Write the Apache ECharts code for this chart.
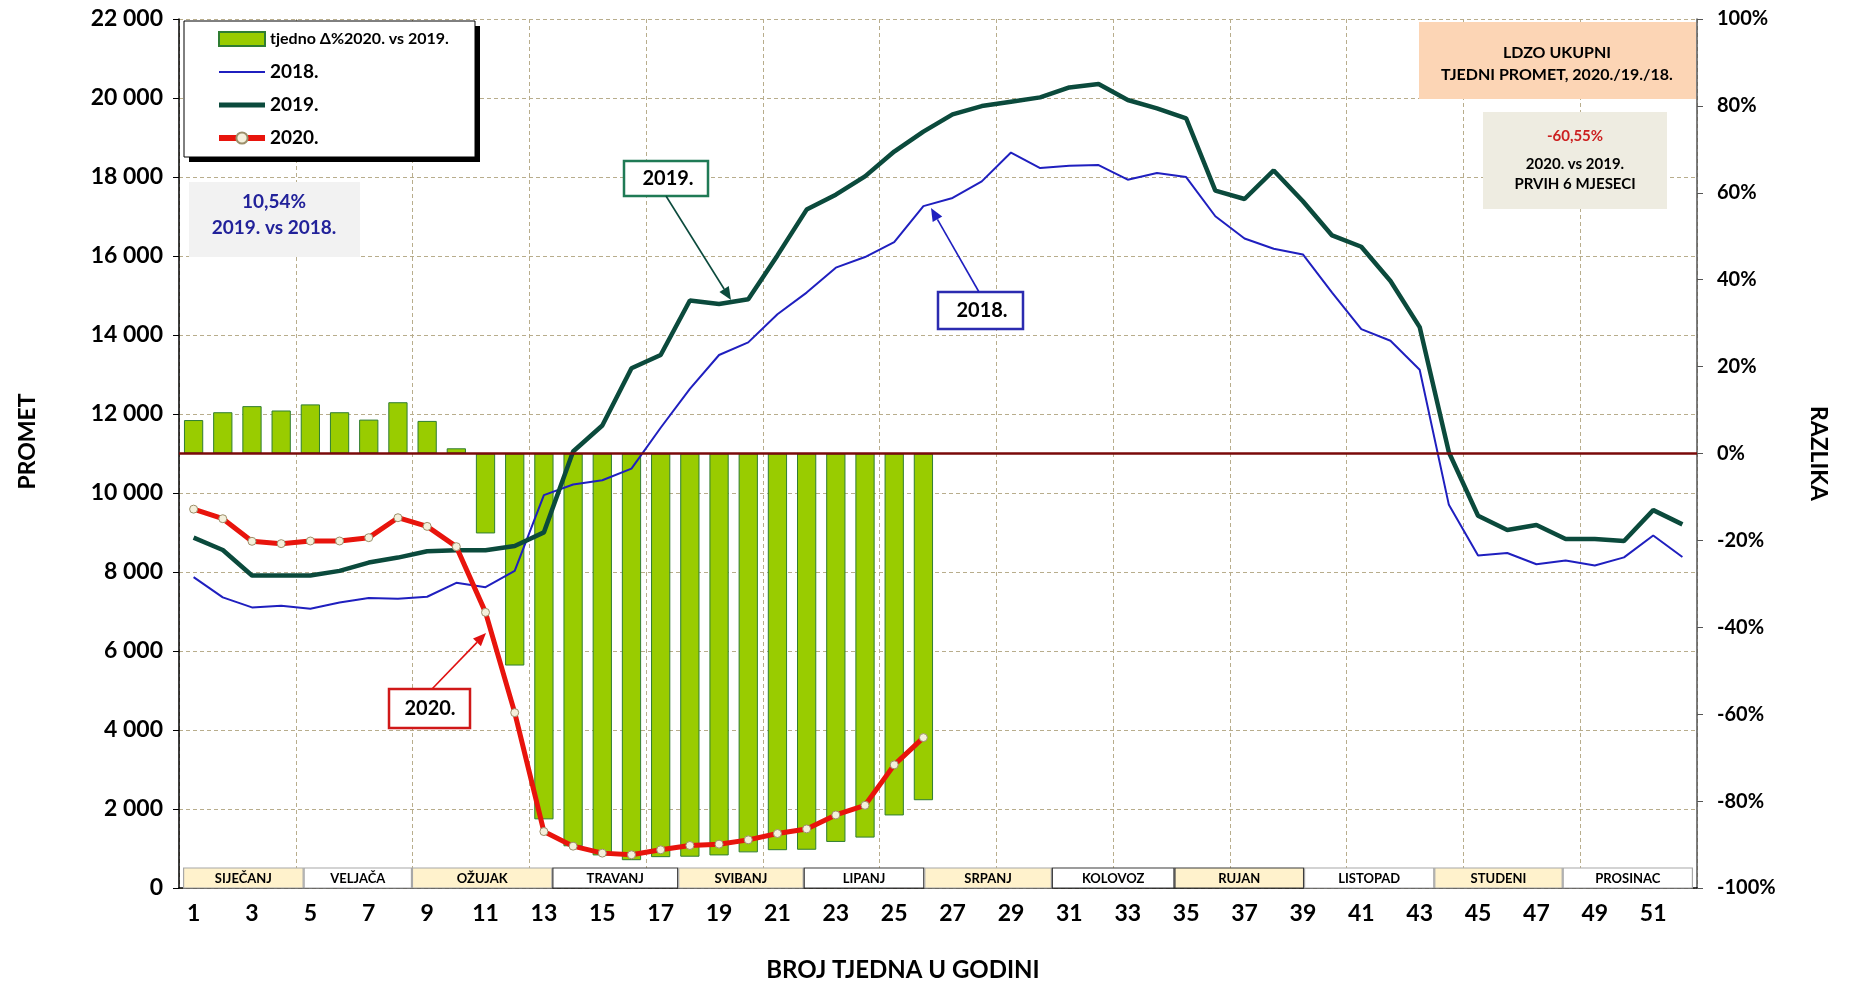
<!DOCTYPE html>
<html>
<head>
<meta charset="utf-8">
<title>LDZO ukupni tjedni promet</title>
<script src="https://cdn.jsdelivr.net/npm/echarts@6/dist/echarts.min.js"></script>
<style>
  html, body { margin: 0; padding: 0; background: #ffffff; }
  #chart { width: 1849px; height: 987px; }
</style>
</head>
<body>
<div id="chart"></div>
<script>
// ---- data ---------------------------------------------------------------
// week numbers 1..52
const weeks = ['1','2','3','4','5','6','7','8','9','10','11','12','13','14','15','16','17','18','19','20','21','22','23','24','25','26',
               '27','28','29','30','31','32','33','34','35','36','37','38','39','40','41','42','43','44','45','46','47','48','49','50','51','52'];

// weekly traffic 2018
const promet2018 = [7869, 7357, 7104, 7146, 7070, 7230, 7339, 7322, 7373, 7725, 7616, 8028, 9945,
                    10214, 10323, 10618, 11652, 12636, 13493, 13813, 14527, 15074, 15705, 15974, 16352, 17262,
                    17470, 17890, 18619, 18226, 18285, 18302, 17932, 18100, 17999, 17007, 16444, 16183, 16040,
                    15074, 14149, 13855, 13120, 9700, 8420, 8480, 8197, 8290, 8164, 8370, 8925, 8380];

// weekly traffic 2019
const promet2019 = [8869, 8558, 7911, 7911, 7911, 8028, 8239, 8365, 8524, 8550, 8550, 8658, 9003,
                    11050, 11710, 13157, 13493, 14872, 14787, 14905, 16015, 17175, 17553, 18015, 18645, 19150,
                    19586, 19795, 19907, 20016, 20268, 20352, 19949, 19739, 19487, 17653, 17443, 18166, 17385,
                    16520, 16234, 15367, 14200, 11030, 9424, 9061, 9189, 8836, 8836, 8785, 9567, 9206];

// weekly traffic 2020 (first half of the year)
const promet2020 = [9591, 9349, 8777, 8718, 8785, 8785, 8869, 9374, 9155, 8642, 6978, 4439, 1429,
                    1059, 883, 841, 967, 1076, 1110, 1219, 1379, 1496, 1849, 2093, 3118, 3808];

// weekly change 2020 vs 2019, in %
const razlikaPct = [7.7, 9.5, 10.9, 9.9, 11.3, 9.5, 7.8, 11.8, 7.5, 1.2, -18.4, -48.8, -84.2,
                    -90.4, -92.5, -93.6, -92.9, -92.8, -92.5, -91.8, -91.3, -91.2, -89.4, -88.4, -83.3, -79.8];

// month strip along the week axis: names and where each month starts (in weeks)
const months = ['SIJEČANJ', 'VELJAČA', 'OŽUJAK', 'TRAVANJ', 'SVIBANJ', 'LIPANJ',
                'SRPANJ', 'KOLOVOZ', 'RUJAN', 'LISTOPAD', 'STUDENI', 'PROSINAC'];
const monthEdges = [0.64, 4.77, 8.48, 13.29, 17.6, 21.9, 26.03, 30.4, 34.6, 39.04, 43.5, 47.9, 52.36];

// axis ranges
const prometMin = 0, prometMax = 22000, prometStep = 2000;
const pctMin = -100, pctMax = 100, pctStep = 20;

// ---- chart --------------------------------------------------------------
const FONT = 'Lato, "Open Sans", "DejaVu Sans", sans-serif';
const NAME_BAR = 'tjedno Δ%2020. vs 2019.';

const spaced = v => String(v).replace(/\B(?=(\d{3})+(?!\d))/g, ' ');

function arrow(x1, y1, x2, y2, color, w) {
  const a = Math.atan2(y2 - y1, x2 - x1), L = 13, W = 5.5;
  const bx = x2 - L * Math.cos(a), by = y2 - L * Math.sin(a);
  const px = -Math.sin(a) * W, py = Math.cos(a) * W;
  return [
    { type: 'line', z: 12, shape: { x1: x1, y1: y1, x2: bx, y2: by }, style: { stroke: color, lineWidth: w } },
    { type: 'polygon', z: 12, shape: { points: [[x2, y2], [bx + px, by + py], [bx - px, by - py]] }, style: { fill: color } }
  ];
}

function box(x, y, w, h, fill, stroke, lw) {
  return { type: 'rect', z: 10, shape: { x: x, y: y, width: w, height: h },
           style: { fill: fill, stroke: stroke || null, lineWidth: lw || 0 } };
}

function label(x, y, text, size, color) {
  return { type: 'text', z: 11, x: x, y: y,
           style: { text: text, fill: color || '#000', align: 'center', verticalAlign: 'middle',
                    font: 'bold ' + size + 'px ' + FONT } };
}

const gridColor = '#b8ad8c';

const option = {
  animation: false,
  backgroundColor: '#ffffff',
  textStyle: { fontFamily: FONT },
  grid: { left: 179, right: 152, top: 19, bottom: 96 },
  legend: {
    left: 216, top: 29, orient: 'vertical', z: 20,
    itemWidth: 46, itemHeight: 14, itemGap: 13, padding: 0,
    textStyle: { fontSize: 19, fontWeight: 'bold', color: '#000', lineHeight: 20, fontFamily: FONT },
    data: [
      { name: NAME_BAR, icon: 'rect', textStyle: { fontSize: 16, lineHeight: 20 } },
      { name: '2018.', itemStyle: { opacity: 0 }, lineStyle: { width: 2 } },
      { name: '2019.', itemStyle: { opacity: 0 }, lineStyle: { width: 5 } },
      { name: '2020.', lineStyle: { width: 6 } }
    ]
  },
  xAxis: [
    {
      type: 'category', data: weeks, boundaryGap: true,
      axisLine: { show: true, lineStyle: { color: '#000', width: 1.5 } },
      axisTick: { show: false },
      axisLabel: { interval: 1, margin: 14, fontSize: 23, fontWeight: 'bold', color: '#000', fontFamily: FONT },
      splitLine: { show: true, interval: 3, lineStyle: { color: gridColor, type: [4, 3], width: 1 } },
      name: 'BROJ TJEDNA U GODINI', nameLocation: 'middle', nameGap: 70,
      nameTextStyle: { fontSize: 24, fontWeight: 'bold', color: '#000', fontFamily: FONT, padding: [0, 70, 0, 0] }
    },
    { type: 'value', min: 0.5, max: 52.5, show: false }
  ],
  yAxis: [
    {
      type: 'value', min: prometMin, max: prometMax, interval: prometStep,
      axisLine: { show: true, lineStyle: { color: '#000', width: 1.5 } },
      axisTick: { show: true, length: 6, lineStyle: { color: '#000' } },
      axisLabel: { formatter: spaced, margin: 16, fontSize: 23, fontWeight: 'bold', color: '#000', fontFamily: FONT },
      splitLine: { show: true, lineStyle: { color: gridColor, type: [4, 3], width: 1 } },
      name: 'PROMET', nameLocation: 'middle', nameGap: 140,
      nameTextStyle: { fontSize: 23, fontWeight: 'bold', color: '#000', fontFamily: FONT, padding: [0, 0, 0, 24] }
    },
    {
      type: 'value', position: 'right', min: pctMin, max: pctMax, interval: pctStep,
      axisLine: { show: true, lineStyle: { color: '#555', width: 1.5 } },
      axisTick: { show: true, length: 6, lineStyle: { color: '#555' } },
      axisLabel: { formatter: v => v + '%', margin: 20, fontSize: 20, fontWeight: 'bold', color: '#000', fontFamily: FONT },
      splitLine: { show: false },
      name: 'RAZLIKA', nameLocation: 'middle', nameGap: 110, nameRotate: -90,
      nameTextStyle: { fontSize: 23, fontWeight: 'bold', color: '#000', fontFamily: FONT }
    }
  ],
  series: [
    {
      name: NAME_BAR, type: 'bar', xAxisIndex: 0, yAxisIndex: 1, data: razlikaPct,
      barWidth: '66%', z: 2,
      itemStyle: { color: '#99cc00', borderColor: '#2f7d32', borderWidth: 1 },
      markLine: {
        silent: true, symbol: 'none', label: { show: false },
        lineStyle: { color: '#7a0a0a', width: 2.5, type: 'solid' },
        data: [{ yAxis: 0 }]
      }
    },
    {
      name: '2018.', type: 'line', xAxisIndex: 0, yAxisIndex: 0, data: promet2018,
      symbol: 'none', z: 3,
      lineStyle: { color: '#1f1fbf', width: 2 }, itemStyle: { color: '#1f1fbf' }
    },
    {
      name: '2019.', type: 'line', xAxisIndex: 0, yAxisIndex: 0, data: promet2019,
      symbol: 'none', z: 4,
      lineStyle: { color: '#0b4a3c', width: 4.5 }, itemStyle: { color: '#0b4a3c' }
    },
    {
      name: '2020.', type: 'line', xAxisIndex: 0, yAxisIndex: 0, data: promet2020,
      symbol: 'circle', symbolSize: 8, showSymbol: true, z: 5,
      lineStyle: { color: '#e8140c', width: 5 },
      itemStyle: { color: '#f4f0dc', borderColor: '#9c8f6a', borderWidth: 1 }
    },
    {
      name: 'mjeseci', type: 'custom', xAxisIndex: 1, yAxisIndex: 0, silent: true, z: 1,
      data: months.map((m, i) => [monthEdges[i], monthEdges[i + 1]]),
      encode: { x: [0, 1] },
      renderItem: function (params, api) {
        const i = params.dataIndex;
        const a = api.coord([api.value(0), 0]);
        const b = api.coord([api.value(1), 0]);
        const h = 20;
        const dark = (i === 3 || i === 5 || i === 7 || i === 8);
        return {
          type: 'group',
          children: [
            { type: 'rect', shape: { x: a[0] + 0.5, y: a[1] - h, width: b[0] - a[0] - 1, height: h },
              style: { fill: i % 2 === 0 ? '#fff2cc' : '#ffffff', stroke: dark ? '#3a3a3a' : '#a8a8a8', lineWidth: 1.2 } },
            { type: 'text', style: { text: months[i], x: (a[0] + b[0]) / 2, y: a[1] - h / 2 + 1,
                align: 'center', verticalAlign: 'middle', font: 'bold 13px ' + FONT, fill: '#000' } }
          ]
        };
      }
    }
  ],
  graphic: [
    // legend frame with its hard shadow
    { type: 'rect', z: 9, shape: { x: 189, y: 26, width: 291, height: 136 }, style: { fill: '#000' } },
    box(184, 21, 291, 136, '#ffffff', '#000', 1),

    // 2019 vs 2018 summary
    box(189, 182, 171, 75, '#f2f2f2'),
    label(274, 202, '10,54%', 19, '#22229a'),
    label(274, 228, '2019. vs 2018.', 19, '#22229a'),

    // title
    box(1419, 22, 277, 77, '#fcd5b5'),
    label(1557, 53, 'LDZO UKUPNI', 16),
    label(1557, 75, 'TJEDNI PROMET, 2020./19./18.', 16),

    // 2020 vs 2019 summary
    box(1483, 112, 184, 97, '#eeece1'),
    label(1575, 136, '-60,55%', 15, '#cc2020'),
    label(1575, 164, '2020. vs 2019.', 15),
    label(1575, 184, 'PRVIH 6 MJESECI', 15),

    // series callouts
    box(624, 161, 84, 35, '#ffffff', '#1f7a55', 2.5),
    label(668, 179, '2019.', 20),
    box(938, 292, 85, 37, '#ffffff', '#2b2bb0', 2.5),
    label(982, 311, '2018.', 20),
    box(389, 689, 81, 39, '#ffffff', '#d01818', 2.5),
    label(430, 709, '2020.', 20)
  ]
    .concat(arrow(666, 196, 731, 300, '#0b4a3c', 1.6))
    .concat(arrow(979, 292, 931, 208, '#1f1fbf', 1.6))
    .concat(arrow(432, 689, 486, 633, '#e01010', 1.6))
};

const chart = echarts.init(document.getElementById('chart'), null, { renderer: 'canvas' });
chart.setOption(option);
</script>
</body>
</html>
